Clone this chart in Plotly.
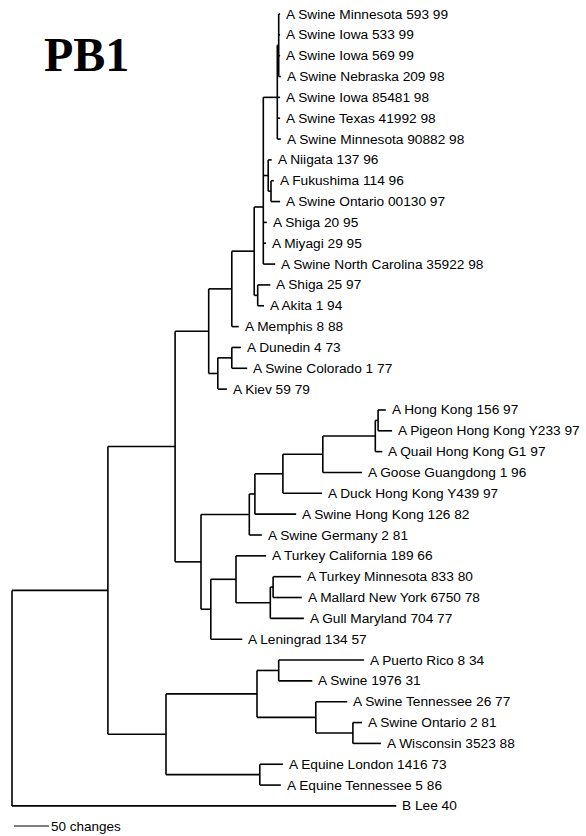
import plotly.graph_objects as go

# ---------------- data ----------------
leaf_names = [
    "A Swine Minnesota 593 99", "A Swine Iowa 533 99", "A Swine Iowa 569 99",
    "A Swine Nebraska 209 98", "A Swine Iowa 85481 98", "A Swine Texas 41992 98",
    "A Swine Minnesota 90882 98", "A Niigata 137 96", "A Fukushima 114 96",
    "A Swine Ontario 00130 97", "A Shiga 20 95", "A Miyagi 29 95",
    "A Swine North Carolina 35922 98", "A Shiga 25 97", "A Akita 1 94",
    "A Memphis 8 88", "A Dunedin 4 73", "A Swine Colorado 1 77", "A Kiev 59 79",
    "A Hong Kong 156 97", "A Pigeon Hong Kong Y233 97", "A Quail Hong Kong G1 97",
    "A Goose Guangdong 1 96", "A Duck Hong Kong Y439 97", "A Swine Hong Kong 126 82",
    "A Swine Germany 2 81", "A Turkey California 189 66", "A Turkey Minnesota 833 80",
    "A Mallard New York 6750 78", "A Gull Maryland 704 77", "A Leningrad 134 57",
    "A Puerto Rico 8 34", "A Swine 1976 31", "A Swine Tennessee 26 77",
    "A Swine Ontario 2 81", "A Wisconsin 3523 88", "A Equine London 1416 73",
    "A Equine Tennessee 5 86", "B Lee 40",
]
# distance of each leaf tip from the root (changes)
leaf_depth = [
    383, 383, 383, 384, 383, 383, 384, 371, 374, 383, 364, 363, 376, 369, 360,
    324, 327, 336, 307, 534, 543, 529, 500, 443, 406, 357, 363, 413, 414, 417,
    329, 503, 429, 479, 500, 527, 387, 384, 549,
]

# internal nodes: id, distance from root (changes), children (ints = leaves)
node_ids = ["S1", "SW", "P2", "P", "Y", "SA", "X", "N232", "DC", "N218", "N209",
            "HP", "N375", "N323", "N283", "N255", "N249", "TM", "N270", "N236",
            "N211", "N201", "N175", "PS", "OW", "N316", "N257", "EQ", "N166",
            "N108", "ROOT"]
node_depth = [381, 379, 370, 366, 359, 351, 346, 314, 314, 294, 281,
              523, 519, 444, 387, 347, 339, 373, 369, 320,
              284, 270, 233, 381, 487, 434, 350, 354, 220,
              137, 0]
node_children = [
    [0, 1, 2, 3], ["S1", 4, 5, 6], [8, 9], [7, "P2"], ["SW", "P", 10, 11, 12],
    [13, 14], ["Y", "SA"], ["X", 15], [16, 17], ["DC", 18], ["N232", "N218"],
    [19, 20], ["HP", 21], ["N375", 22], ["N323", 23], ["N283", 24], ["N255", 25],
    [27, 28], ["TM", 29], [26, "N270"], ["N236", 30], ["N249", "N211"],
    ["N209", "N201"], [31, 32], [34, 35], [33, "OW"], ["PS", "N316"], [36, 37],
    ["N257", "EQ"], ["N175", "N166"], ["N108", 38],
]
# nodes whose stem is not at the midpoint of their children (row units)
node_row_override = {"SW": 4.0, "Y": 9.26}

title_text = "PB1"
scale_changes = 50
scale_text = "50 changes"

# ---------------- layout helpers ----------------
W, H = 586, 836
PX_PER_CHANGE = 0.7
X0_PX = 12                   # root position (px)
ROW0_PX, ROW_PX = 14, 20.84  # first leaf row and row spacing (px)

nodes = {nid: (d, ch) for nid, d, ch in zip(node_ids, node_depth, node_children)}
row_cache = {}


def row_of(c):
    if isinstance(c, int):
        return float(c)
    if c in row_cache:
        return row_cache[c]
    ch = nodes[c][1]
    rows = [row_of(k) for k in ch]
    r = node_row_override.get(c, (min(rows) + max(rows)) / 2)
    row_cache[c] = r
    return r


def depth_of(c):
    return float(leaf_depth[c]) if isinstance(c, int) else float(nodes[c][0])


xs, ys = [], []
for nid in node_ids:
    d, ch = nodes[nid]
    rows = [row_of(k) for k in ch]
    xs += [d, d, None]
    ys += [min(rows), max(rows), None]
    for k in ch:
        xs += [d, depth_of(k), None]
        ys += [row_of(k), row_of(k), None]

fig = go.Figure()
fig.add_trace(go.Scatter(x=xs, y=ys, mode="lines",
                         line=dict(color="black", width=1.6),
                         hoverinfo="skip", showlegend=False))

for i, name in enumerate(leaf_names):
    fig.add_annotation(x=leaf_depth[i], y=i, text=name, showarrow=False,
                       xanchor="left", yanchor="middle", xshift=4, yshift=0,
                       font=dict(family="Liberation Sans, Arial", size=13.7, color="black"))

# scale bar
sb_row = (826 - ROW0_PX) / ROW_PX
sb_x0 = (14 - X0_PX) / PX_PER_CHANGE
fig.add_trace(go.Scatter(x=[sb_x0, sb_x0 + scale_changes], y=[sb_row, sb_row],
                         mode="lines", line=dict(color="black", width=1.2),
                         hoverinfo="skip", showlegend=False))
fig.add_annotation(x=sb_x0 + scale_changes, y=sb_row, text=scale_text, showarrow=False,
                   xanchor="left", yanchor="middle", xshift=0,
                   font=dict(family="Liberation Sans, Arial", size=13.5, color="black"))

fig.add_annotation(x=42 / W, y=1 - 55 / H, xref="paper", yref="paper",
                   text="<b>" + title_text + "</b>", showarrow=False,
                   xanchor="left", yanchor="middle",
                   font=dict(family="Liberation Serif, Times New Roman", size=48, color="black"))

x_lo = (0 - X0_PX) / PX_PER_CHANGE
x_hi = (W - X0_PX) / PX_PER_CHANGE
y_top = (0 - ROW0_PX) / ROW_PX
y_bot = (H - ROW0_PX) / ROW_PX

fig.update_layout(
    width=W, height=H, margin=dict(l=0, r=0, t=0, b=0),
    paper_bgcolor="white", plot_bgcolor="white",
    xaxis=dict(range=[x_lo, x_hi], visible=False, fixedrange=True),
    yaxis=dict(range=[y_bot, y_top], visible=False, fixedrange=True),
)

fig.write_html("out.html",
               config={"displayModeBar": False, "staticPlot": True},
               post_script="document.body.style.margin='0';document.body.style.overflow='hidden';")
